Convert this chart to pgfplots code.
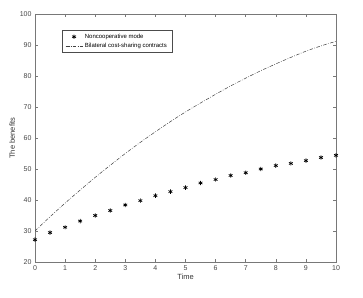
\documentclass[border=0pt]{standalone}
\usepackage{pgfplots}
\pgfplotsset{compat=1.18}
\usepackage{fontspec}
\setmainfont{Liberation Sans}[Ligatures=NoCommon]
\definecolor{axgray}{RGB}{120,120,120}
\definecolor{txtgray}{RGB}{70,70,70}
\begin{document}
\begin{tikzpicture}
\begin{axis}[
  width=301pt, height=248pt, scale only axis,
  xmin=0, xmax=10, ymin=20, ymax=100,
  xtick={0,1,...,10}, ytick={20,30,...,100},
  tick align=inside, major tick length=3pt,
  axis line style={axgray, line width=0.6pt},
  tick style={axgray, line width=0.5pt},
  every tick label/.append style={font=\fontsize{7}{8}\selectfont, text=txtgray},
  /pgf/number format/assume math mode=true,
  xlabel={Time}, ylabel={The bene{}fits},
  label style={font=\fontsize{7.5}{9}\selectfont, text=black!80},
  xlabel style={yshift=3pt},
  ylabel style={yshift=-2pt},
  legend style={at={(0.09,0.935)}, anchor=north west, draw=black!70, line width=0.4pt,
    font=\fontsize{6}{7}\selectfont, inner xsep=3pt, inner ysep=1.5pt, row sep=-0.5pt,
    cells={anchor=west}},
  legend cell align=left,
]
\coordinate (sw) at (rel axis cs:0,0);
\coordinate (ne) at (rel axis cs:1,1);
\addplot[only marks, mark=asterisk, mark size=2.2pt, black, line width=0.7pt] coordinates {
(0,27.2) (0.5,29.5) (1,31.2) (1.5,33.2) (2,35.0) (2.5,36.6) (3,38.4) (3.5,39.8)
(4,41.4) (4.5,42.7) (5,44.0) (5.5,45.5) (6,46.6) (6.5,47.9) (7,48.8) (7.5,50.0)
(8,51.1) (8.5,51.8) (9,52.7) (9.5,53.7) (10,54.4)};
\addlegendentry{Noncooperative mode}
\addplot[black!75, line width=0.5pt, dash pattern=on 3.5pt off 1.5pt on 0.7pt off 1.5pt, smooth] coordinates {
(0,30) (0.5,34.6) (1,39) (1.5,43.2) (2,47.3) (2.5,51.2) (3,55) (3.5,58.6) (4,62)
(4.5,65.3) (5,68.4) (5.5,71.3) (6,74.1) (6.5,76.8) (7,79.3) (7.5,81.7) (8,83.9)
(8.5,86) (9,88) (9.5,89.7) (10,91.2)};
\addlegendentry{Bilateral cost-sharing contracts}
\end{axis}
\pgfresetboundingbox
\path ([shift={(-35pt,-35pt)}]sw) rectangle ([shift={(27pt,14pt)}]ne);
\end{tikzpicture}
\end{document}
